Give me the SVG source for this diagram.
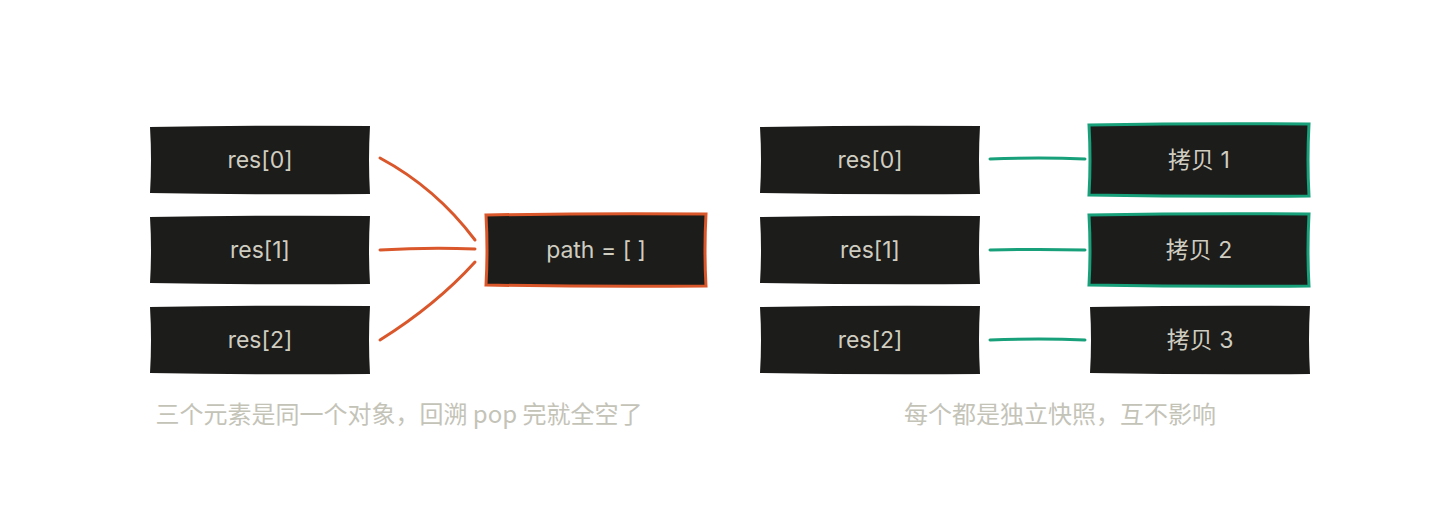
<svg xmlns="http://www.w3.org/2000/svg" width="1440" height="510" viewBox="0 0 1440 510">
<defs>
<style>
.box{fill:#1c1c1a}
.lbl{font-family:Inter,"Noto Sans","Noto Sans CJK SC",sans-serif;font-size:23px;fill:#cfcdc1;text-anchor:middle;dominant-baseline:central}
.cap{font-family:"Noto Sans CJK SC",sans-serif;font-size:24px;fill:#c4c3b8;text-anchor:middle}
.or{stroke:#d9572b;stroke-width:3;fill:none;stroke-linecap:round}
.gr{stroke:#17a07a;stroke-width:3;fill:none;stroke-linecap:round}
</style>
</defs>
<rect width="1440" height="510" fill="#ffffff"/>
<g id="connectors">
<path class="or" d="M380 158 Q436 188 475 240"/>
<path class="or" d="M380 250 Q430 247 475 249"/>
<path class="or" d="M380 340 Q436 305 475 262"/>
<path class="gr" d="M990 159 Q1040 157 1085 159"/>
<path class="gr" d="M990 250 Q1040 249 1085 250"/>
<path class="gr" d="M990 340 Q1040 338 1085 340"/>
</g>
<g id="res0-a"><path class="box" d="M150 127 Q260 125 370 126 Q368 160 370 194 Q260 195 150 193 Q152 160 150 127Z"/><text class="lbl" x="260" y="160">res[0]</text></g>
<g id="res1-a"><path class="box" d="M150 217 Q260 215 370 216 Q368 250 370 284 Q260 285 150 283 Q152 250 150 217Z"/><text class="lbl" x="260" y="250">res[1]</text></g>
<g id="res2-a"><path class="box" d="M150 307 Q260 305 370 306 Q368 340 370 374 Q260 375 150 373 Q152 340 150 307Z"/><text class="lbl" x="260" y="340">res[2]</text></g>
<g id="path"><path class="box" stroke="#d9572b" stroke-width="3" d="M486 215 Q596 213 706 214 Q704 250 706 286 Q596 287 486 285 Q488 250 486 215Z"/><text class="lbl" x="596" y="250">path = [ ]</text></g>
<g id="res0-b"><path class="box" d="M760 127 Q870 125 980 126 Q978 160 980 194 Q870 195 760 193 Q762 160 760 127Z"/><text class="lbl" x="870" y="160">res[0]</text></g>
<g id="res1-b"><path class="box" d="M760 217 Q870 215 980 216 Q978 250 980 284 Q870 285 760 283 Q762 250 760 217Z"/><text class="lbl" x="870" y="250">res[1]</text></g>
<g id="res2-b"><path class="box" d="M760 307 Q870 305 980 306 Q978 340 980 374 Q870 375 760 373 Q762 340 760 307Z"/><text class="lbl" x="870" y="340">res[2]</text></g>
<g id="copy1"><path class="box" stroke="#17a07a" stroke-width="3" d="M1089 125 Q1199 123 1309 124 Q1307 160 1309 196 Q1199 197 1089 195 Q1091 160 1089 125Z"/><text class="lbl" x="1199" y="160">拷贝 1</text></g>
<g id="copy2"><path class="box" stroke="#17a07a" stroke-width="3" d="M1089 215 Q1199 213 1309 214 Q1307 250 1309 286 Q1199 287 1089 285 Q1091 250 1089 215Z"/><text class="lbl" x="1199" y="250">拷贝 2</text></g>
<g id="copy3"><path class="box" d="M1090 307 Q1200 305 1310 306 Q1308 340 1310 374 Q1200 375 1090 373 Q1092 340 1090 307Z"/><text class="lbl" x="1200" y="340">拷贝 3</text></g>
<g id="captions">
<text class="cap" x="399" y="423">三个元素是同一个对象，回溯 pop 完就全空了</text>
<text class="cap" x="1060" y="423">每个都是独立快照，互不影响</text>
</g>
</svg>
